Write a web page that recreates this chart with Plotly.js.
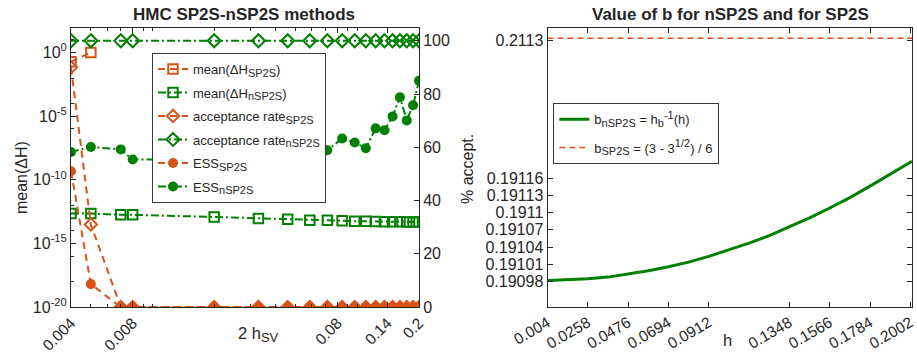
<!DOCTYPE html>
<html>
<head>
<meta charset="utf-8">
<script src="https://cdn.plot.ly/plotly-3.0.1.min.js"></script>
<style>html,body{margin:0;padding:0;background:#fff;}#chart{width:917px;height:362px;}</style>
</head>
<body>
<div id="chart"></div>
<script>
// ---- Left panel data (step sizes 2 h_SV) ----
const h = [0.004, 0.005, 0.007, 0.008, 0.02, 0.0329, 0.0457, 0.0586, 0.0714, 0.0843, 0.0971, 0.11, 0.1229, 0.1357, 0.1486, 0.1614, 0.1743, 0.1871, 0.2];
const meanDH_SP2S = [0.19, 1.0, null, null, null, null, null, null, null, null, null, null, null, null, null, null, null, null, null];
const meanDH_nSP2S = [2.2e-13, 2.2e-13, 1.75e-13, 1.75e-13, 1.2e-13, 9.1e-14, 7.9e-14, 6.6e-14, 6.6e-14, 5.9e-14, 5.6e-14, 5.4e-14, 5.2e-14, 5.1e-14, 5.0e-14, 5.0e-14, 4.9e-14, 4.9e-14, 4.8e-14];
const accept_SP2S = [90, 31, 0, 0, 0, 0, 0, 0, 0, 0, 0, 0, 0, 0, 0, 0, 0, 0, 0];
const accept_nSP2S = [100, 100, 100, 100, 100, 100, 100, 100, 100, 100, 100, 100, 100, 100, 100, 100, 100, 100, 100];
const ESS_SP2S = [51, 8.6, 0, 0, 0, 0, 0, 0, 0, 0, 0, 0, 0, 0, 0, 0, 0, 0, 0];
const ESS_nSP2S = [58.2, 60.1, 59.2, 55.4, 55.5, 56, 56.5, 57.5, 58.9, 63.3, 61.8, 59.6, 67.1, 66.4, 71.6, 78.8, 70.1, 75.8, 85.0];
const leftXTicks = [0.004, 0.008, 0.08, 0.14, 0.2];
const leftYTicks = [1e-20, 1e-15, 1e-10, 1e-5, 1];
const leftYTickText = ['10<sup>-20</sup>', '10<sup>-15</sup>', '10<sup>-10</sup>', '10<sup>-5</sup>', '10<sup>0</sup>'];
const rightAxisTicks = [0, 20, 40, 60, 80, 100];

// ---- Right panel data ----
const hb = [0.004, 0.0149, 0.0258, 0.0367, 0.0476, 0.0585, 0.0694, 0.0803, 0.0912, 0.1021, 0.113, 0.1239, 0.1348, 0.1457, 0.1566, 0.1675, 0.1784, 0.1893, 0.2002, 0.2011];
const b_nSP2S = [0.190982, 0.190983, 0.190985, 0.190988, 0.190993, 0.190999, 0.191006, 0.191014, 0.191024, 0.191035, 0.191047, 0.19106, 0.191075, 0.191091, 0.191108, 0.191126, 0.191146, 0.191166, 0.191187, 0.191189];
const hSP2S = [0.004, 0.2011];
const b_SP2S = [0.21132, 0.21132];
const bXTicks = [0.004, 0.0258, 0.0476, 0.0694, 0.0912, 0.1348, 0.1566, 0.1784, 0.2002];
const bYTicksLow = [0.19098, 0.19101, 0.19104, 0.19107, 0.1911, 0.19113, 0.19116];
const bYTicksHigh = [0.2113];

// ---- styling ----
const ORANGE = 'rgb(217,83,25)';
const GREEN = 'rgb(0,128,0)';
const AX = '#262626';
const FONT = 'Liberation Sans, Arial, Helvetica, sans-serif';
const DASH = '7px,5px';
const DASHDOT = '8px,3px,2px,3px';
const sub = (t, s) => '<sub><span style="font-size:' + s + 'px">' + t + '</span></sub>';
const sup = (t, s) => '<sup><span style="font-size:' + s + 'px">' + t + '</span></sup>';

// pixel -> paper helpers (plot area: x 71..912, y 28..307)
const L = 71, R = 912, T = 28, B = 307;
const px = v => (v - L) / (R - L);
const py = v => (B - v) / (B - T);

const traces = [
  {x: h, y: meanDH_SP2S, name: 'mean(\u0394H' + sub('SP2S', 11) + ')', xaxis: 'x', yaxis: 'y', mode: 'lines+markers',
   line: {color: ORANGE, width: 2, dash: DASH}, marker: {symbol: 'square-open', size: 9.5, color: ORANGE, line: {width: 2}},
   legend: 'legend', legendgroup: 'g1'},
  {x: h, y: meanDH_nSP2S, name: 'mean(\u0394H' + sub('nSP2S', 11) + ')', xaxis: 'x', yaxis: 'y', mode: 'lines+markers',
   line: {color: GREEN, width: 2, dash: DASHDOT}, marker: {symbol: 'square-open', size: 9.5, color: GREEN, line: {width: 2}},
   legend: 'legend', legendgroup: 'g2'},
  {x: h, y: accept_SP2S, name: 'acceptance rate' + sub('SP2S', 11), xaxis: 'x', yaxis: 'y2', mode: 'lines+markers',
   line: {color: ORANGE, width: 2, dash: DASH}, marker: {symbol: 'diamond-open', size: 9.5, color: ORANGE, line: {width: 2}},
   legend: 'legend', legendgroup: 'g3'},
  {x: h, y: accept_nSP2S, name: 'acceptance rate' + sub('nSP2S', 11), xaxis: 'x', yaxis: 'y2', mode: 'lines+markers',
   line: {color: GREEN, width: 2, dash: DASHDOT}, marker: {symbol: 'diamond-open', size: 10, color: GREEN, line: {width: 2}},
   legend: 'legend', legendgroup: 'g4'},
  {x: h, y: ESS_SP2S, name: 'ESS' + sub('SP2S', 11), xaxis: 'x', yaxis: 'y2', mode: 'lines+markers',
   line: {color: ORANGE, width: 2, dash: DASH}, marker: {symbol: 'circle', size: 10, color: ORANGE},
   legend: 'legend', legendgroup: 'g5'},
  {x: h, y: ESS_nSP2S, name: 'ESS' + sub('nSP2S', 11), xaxis: 'x', yaxis: 'y2', mode: 'lines+markers',
   line: {color: GREEN, width: 2, dash: DASHDOT}, marker: {symbol: 'circle', size: 10, color: GREEN},
   legend: 'legend', legendgroup: 'g6'},
  {x: hb, y: b_nSP2S, name: 'b' + sub('nSP2S', 11) + ' = h' + sub('b', 11) + sup('-1', 11) + '(h)', xaxis: 'x2', yaxis: 'y3', mode: 'lines',
   line: {color: GREEN, width: 3}, legend: 'legend2', legendgroup: 'r1'},
  {x: hSP2S, y: b_SP2S, name: 'b' + sub('SP2S', 11) + ' = (3 - 3' + sup('1/2', 11) + ') / 6', xaxis: 'x3', yaxis: 'y4', mode: 'lines',
   line: {color: ORANGE, width: 1.5, dash: '6px,4px'}, legend: 'legend2', legendgroup: 'r2'}
];

const axBase = {showline: true, linecolor: AX, linewidth: 1, ticks: 'inside', tickcolor: AX, ticklen: 5,
  showgrid: false, zeroline: false, tickfont: {family: FONT, size: 16, color: AX}};

const lowTop = py(100);

const layout = {
  width: 917, height: 362,
  margin: {l: L, r: 917 - R, t: T, b: 362 - B},
  paper_bgcolor: '#fff', plot_bgcolor: '#fff',
  font: {family: FONT, size: 14, color: AX},
  xaxis: Object.assign({}, axBase, {domain: [0, px(419)], type: 'log', range: [Math.log10(0.004), Math.log10(0.2)],
    tickmode: 'array', tickvals: leftXTicks, ticktext: leftXTicks.map(String), tickangle: -45, mirror: 'ticks', anchor: 'y',
    tickfont: {family: FONT, size: 15.5, color: AX},
    minor: {tickmode: 'array', tickvals: [0.005, 0.006, 0.007, 0.009, 0.01, 0.02, 0.03, 0.04, 0.05, 0.06, 0.07, 0.09, 0.1], ticks: 'inside', ticklen: 3, tickcolor: AX}}),
  yaxis: Object.assign({}, axBase, {domain: [0, 1], type: 'log', range: [-20, 1.93], anchor: 'x',
    tickmode: 'array', tickvals: leftYTicks, ticktext: leftYTickText,
    minor: {tickmode: 'array', tickvals: [1e-18, 1e-16, 1e-14, 1e-12, 1e-8, 1e-6, 1e-4, 1e-2, 10], ticks: 'inside', ticklen: 3, tickcolor: AX}}),
  yaxis2: Object.assign({}, axBase, {overlaying: 'y', side: 'right', anchor: 'x', range: [0, 104.8],
    tickmode: 'array', tickvals: rightAxisTicks}),
  xaxis2: Object.assign({}, axBase, {domain: [px(547.5), 1], range: [0.004, 0.2011], anchor: 'y3',
    tickmode: 'array', tickvals: bXTicks, ticktext: bXTicks.map(String), tickangle: -30,
    tickfont: {family: FONT, size: 15.5, color: AX}}),
  xaxis3: Object.assign({}, axBase, {domain: [px(547.5), 1], matches: 'x2', anchor: 'y4', side: 'top',
    tickmode: 'array', tickvals: bXTicks, showticklabels: false}),
  yaxis3: Object.assign({}, axBase, {domain: [0, lowTop], range: [0.1909361, 0.1912955], anchor: 'x2', mirror: 'ticks',
    tickmode: 'array', tickvals: bYTicksLow, ticktext: bYTicksLow.map(String)}),
  yaxis4: Object.assign({}, axBase, {domain: [lowTop, 1], range: [0.210703, 0.211423], anchor: 'x3', mirror: 'ticks',
    tickmode: 'array', tickvals: bYTicksHigh, ticktext: ['0.2113']}),
  showlegend: true,
  legend: {x: px(152), y: py(53), xanchor: 'left', yanchor: 'top', bgcolor: '#fff', bordercolor: '#3a3a3a', borderwidth: 1,
    font: {family: FONT, size: 13, color: AX}, tracegroupgap: 3.6, traceorder: 'grouped', itemwidth: 30},
  legend2: {x: px(553.3), y: py(103.3), xanchor: 'left', yanchor: 'top', bgcolor: '#fff', bordercolor: '#3a3a3a', borderwidth: 1,
    font: {family: FONT, size: 13, color: AX}, tracegroupgap: 8.4, traceorder: 'grouped', itemwidth: 30},
  annotations: [
    {text: '<b>HMC SP2S-nSP2S methods</b>', x: px(244), y: py(15), xref: 'paper', yref: 'paper', showarrow: false,
     xanchor: 'center', yanchor: 'middle', font: {family: FONT, size: 17, color: AX}},
    {text: '<b>Value of b for nSP2S and for SP2S</b>', x: px(730.5), y: py(15), xref: 'paper', yref: 'paper', showarrow: false,
     xanchor: 'center', yanchor: 'middle', font: {family: FONT, size: 17, color: AX}},
    {text: 'mean(\u0394H)', x: px(21), y: py(178), xref: 'paper', yref: 'paper', showarrow: false, textangle: -90,
     xanchor: 'center', yanchor: 'middle', font: {family: FONT, size: 16, color: AX}},
    {text: '% accept.', x: px(467), y: py(169), xref: 'paper', yref: 'paper', showarrow: false, textangle: -90,
     xanchor: 'center', yanchor: 'middle', font: {family: FONT, size: 16, color: AX}},
    {text: '2 h' + sub('SV', 13), x: px(258), y: py(334), xref: 'paper', yref: 'paper', showarrow: false,
     xanchor: 'center', yanchor: 'middle', font: {family: FONT, size: 16.5, color: AX}},
    {text: 'h', x: px(727), y: py(340), xref: 'paper', yref: 'paper', showarrow: false,
     xanchor: 'center', yanchor: 'middle', font: {family: FONT, size: 16.5, color: AX}}
  ]
};

Plotly.newPlot('chart', traces, layout, {displayModeBar: false, staticPlot: true});
</script>
</body>
</html>
